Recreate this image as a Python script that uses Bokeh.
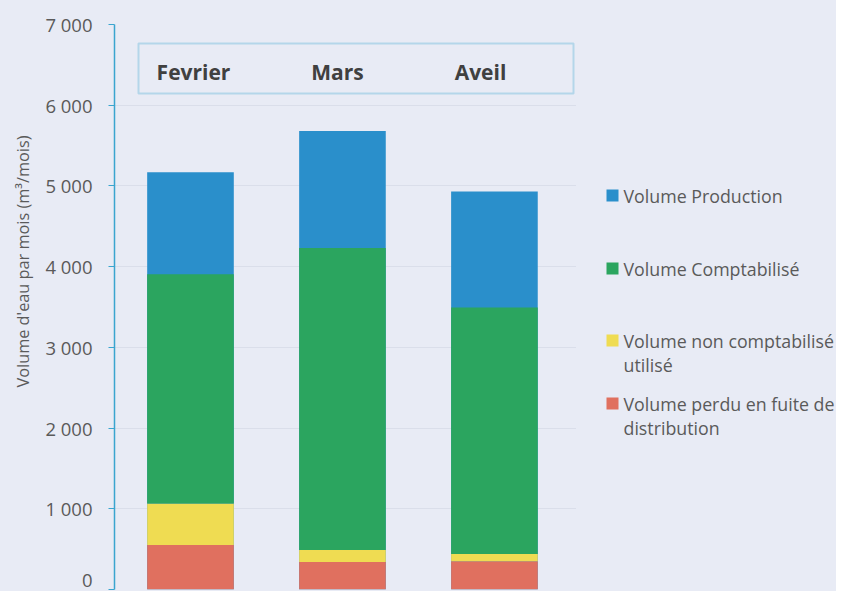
import numpy as np
from bokeh.plotting import figure
from bokeh.layouts import row
from bokeh.models import (Range1d, FixedTicker, CustomJSTickFormatter,
                          Label, BoxAnnotation, ColumnDataSource)
from bokeh.embed import file_html
from bokeh.resources import INLINE

# ---- data ----
months = ["Fevrier", "Mars", "Aveil"]
production = [5170, 5680, 4930]          # total production (blue, behind)
perdu = [550, 340, 350]                  # volume perdu en fuite de distribution
non_compta = [515, 150, 90]              # volume non comptabilisé utilisé
comptabilise = [2840, 3740, 3055]        # volume comptabilisé
y_ticks = [0, 1000, 2000, 3000, 4000, 5000, 6000, 7000]

legend_labels = ["Volume Production", "Volume Comptabilisé",
                 "Volume non comptabilisé\nutilisé",
                 "Volume perdu en fuite de\ndistribution"]
y_label = "Volume d'eau par mois (m\u00b3/mois)"

# ---- style ----
BG = "#e8ebf5"
AXIS = "#3aa5cf"
C_PROD = "#2a8fcb"
C_COMPTA = "#2ba55f"
C_NON = "#efdc52"
C_PERDU = "#e0705f"
TXT = "#5a5a5a"
FONT = "Open Sans"

H = 591
LW = 40            # left strip (axis title)
ML = 74            # main figure left border
FW = 462           # main frame width
MW = ML + FW
RW = 836 - LW - MW  # legend strip
FT, FB = 24, 2


def blank(width):
    # frame aligned with the main frame; y data == (H - canvas y)
    f = figure(width=width, height=H, output_backend="svg", toolbar_location=None,
               x_range=Range1d(0, width), y_range=Range1d(FB, H - FT),
               x_axis_type=None, y_axis_type=None,
               min_border_left=0, min_border_right=0,
               min_border_top=FT, min_border_bottom=FB,
               background_fill_color=BG, border_fill_color=BG)
    f.outline_line_color = None
    f.grid.visible = False
    return f


# ---- main chart ----
x_pos = np.arange(len(months)) + 0.5
p = figure(width=MW, height=H, output_backend="svg", toolbar_location=None,
           x_range=Range1d(0, 3.04), y_range=Range1d(0, 7000),
           min_border_left=ML, min_border_right=0,
           min_border_top=FT, min_border_bottom=FB,
           background_fill_color=BG, border_fill_color=BG)
p.outline_line_color = None
p.xaxis.visible = False
p.xgrid.grid_line_color = None
p.ygrid.grid_line_color = "#dadeea"
p.ygrid.ticker = FixedTicker(ticks=y_ticks)

ya = p.yaxis[0]
ya.ticker = FixedTicker(ticks=y_ticks)
ya.formatter = CustomJSTickFormatter(
    code="return tick.toFixed(0).replace(/\\B(?=(\\d{3})+(?!\\d))/g, ' ');")
ya.axis_line_color = AXIS
ya.axis_line_width = 1.5
ya.major_tick_line_color = AXIS
ya.major_tick_out = 6
ya.major_tick_in = 0
ya.minor_tick_line_color = None
ya.major_label_text_font = FONT
ya.major_label_text_font_size = "18.5px"
ya.major_label_text_color = TXT
ya.major_label_standoff = 16

bw = 0.57
src = ColumnDataSource(dict(x=x_pos, months=months, production=production,
                            perdu=perdu, non=non_compta, compta=comptabilise))
p.vbar(x="x", top="production", width=bw, color=C_PROD, line_color=None, source=src)
p.vbar_stack(["perdu", "non", "compta"], x="x", width=bw,
             color=[C_PERDU, C_NON, C_COMPTA], line_color=None, source=src)

# box with the month names (screen units, relative to the frame)
p.add_layout(BoxAnnotation(left=24, right=459, top=546, bottom=496,
                           left_units="screen", right_units="screen",
                           top_units="screen", bottom_units="screen",
                           fill_color=None, line_color=AXIS, line_width=2))
month_label_x = [79, 223, 366]
for m, lx in zip(months, month_label_x):
    p.add_layout(Label(x=lx, y=518, x_units="screen", y_units="screen", text=m,
                       text_font=FONT, text_font_size="21px", text_font_style="bold",
                       text_color="#404040", text_align="center",
                       text_baseline="middle"))

# ---- axis title strip ----
pl = blank(LW)
pl.add_layout(Label(x=22, y=H - 261, text=y_label, angle=np.pi / 2,
                    text_font=FONT, text_font_size="16.3px", text_color=TXT,
                    text_align="center", text_baseline="middle"))

# ---- legend strip ----
pr = blank(RW)
leg_colors = [C_PROD, C_COMPTA, C_NON, C_PERDU]
leg_y = [H - 195, H - 268, H - 340, H - 403]
line_h = 24.5
pr.rect(x=[36] * 4, y=leg_y, width=12, height=12, color=leg_colors, line_color=None)
for lab, ly in zip(legend_labels, leg_y):
    for i, part in enumerate(lab.split("\n")):
        pr.add_layout(Label(x=47, y=ly - i * line_h, text=part, text_font=FONT,
                            text_font_size="17.8px", text_color=TXT,
                            text_align="left", text_baseline="middle"))

layout = row(pl, p, pr, spacing=0, styles={"background-color": BG})
open("out.html", "w").write(file_html(layout, INLINE))
